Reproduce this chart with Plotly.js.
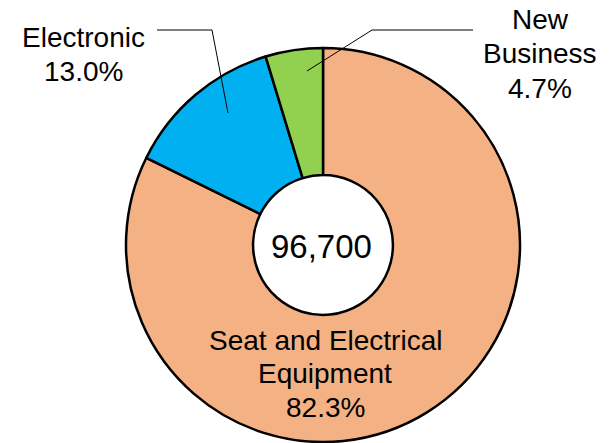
<!DOCTYPE html>
<html>
<head>
<meta charset="utf-8">
<script src="https://cdn.plot.ly/plotly-3.0.1.min.js"></script>
<style>html,body{margin:0;padding:0;background:#fff;}#chart{width:609px;height:443px;}</style>
</head>
<body>
<div id="chart"></div>
<script>
var categories = ["Seat and Electrical<br>Equipment", "Electronic", "New<br>Business"];
var shares = [82.3, 13.0, 4.7];
var colors = ["#F4B183", "#00B0F0", "#92D050"];
var totalLabel = "96,700";

var W = 609, H = 443;
function px(x) { return x / W; }
function py(y) { return (H - y) / H; }

var cx = 323, cy = 245, R = 197;

var trace = {
  type: "pie",
  values: shares,
  labels: categories,
  marker: { colors: colors, line: { color: "#000000", width: 2.5 } },
  hole: 0.355,
  sort: false,
  direction: "clockwise",
  rotation: 0,
  textinfo: "none",
  hoverinfo: "none",
  showlegend: false,
  domain: { x: [px(cx - R), px(cx + R)], y: [py(cy + R), py(cy - R)] }
};

var font = { family: "Liberation Sans, Arial, sans-serif", size: 28, color: "#000000" };
function pct(v) { return v.toFixed(1) + "%"; }

// label placement: centre x and y of each text line (pixels)
var labelPos = [
  { x: 325, ys: [340.5, 373.5, 407.5] },
  { x: 83, ys: [37.5, 71.5] },
  { x: 540, ys: [20, 54, 88.5] }
];

var annotations = [];
categories.forEach(function (c, i) {
  var lines = c.split("<br>").concat([pct(shares[i])]);
  lines.forEach(function (t, j) {
    annotations.push({ x: px(labelPos[i].x), y: py(labelPos[i].ys[j]), xref: "paper", yref: "paper",
      showarrow: false, xanchor: "center", yanchor: "middle", text: t, font: font });
  });
});
annotations.push({ x: px(321), y: py(247), xref: "paper", yref: "paper", showarrow: false, xanchor: "center", yanchor: "middle",
  text: totalLabel, font: { family: "Liberation Sans, Arial, sans-serif", size: 33, color: "#000000" } });

function pathPx(pts) {
  return pts.map(function (p, i) { return (i ? "L" : "M") + px(p[0]) + "," + py(p[1]); }).join(" ");
}
var shapes = [
  { type: "path", xref: "paper", yref: "paper", path: pathPx([[157, 30], [212, 30], [228, 113]]), line: { color: "#000000", width: 1 } },
  { type: "path", xref: "paper", yref: "paper", path: pathPx([[473, 30], [372, 30], [307, 71]]), line: { color: "#000000", width: 1 } }
];

var layout = {
  width: W, height: H,
  margin: { l: 0, r: 0, t: 0, b: 0 },
  paper_bgcolor: "#ffffff",
  plot_bgcolor: "#ffffff",
  annotations: annotations,
  shapes: shapes
};

Plotly.newPlot("chart", [trace], layout, { displayModeBar: false, staticPlot: true });
</script>
</body>
</html>
